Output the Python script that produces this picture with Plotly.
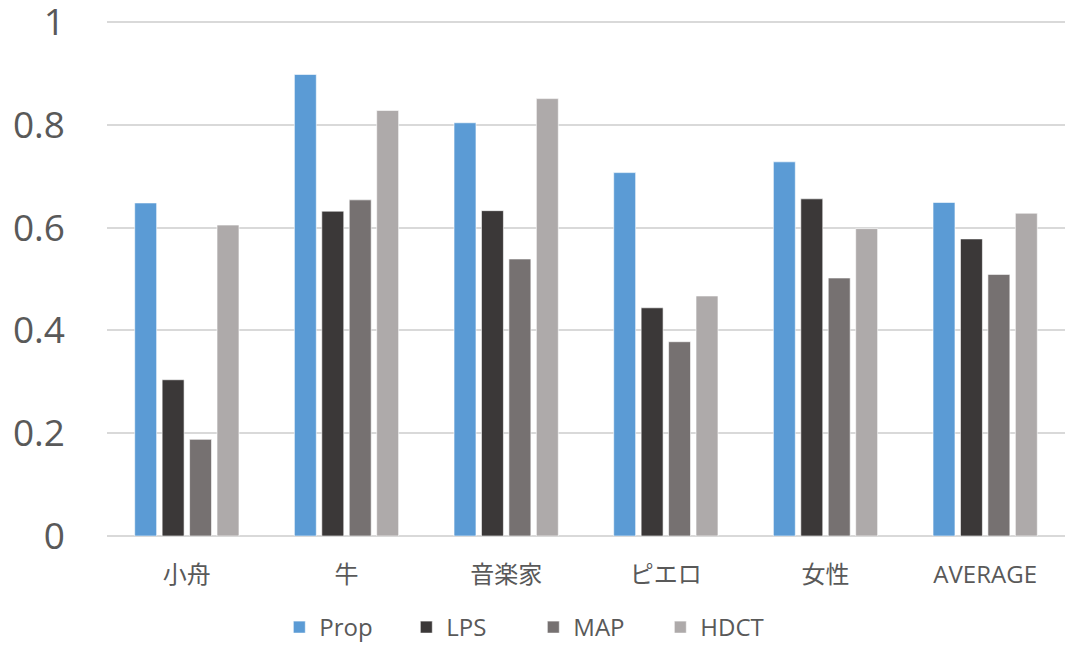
import plotly.graph_objects as go

categories = ["小舟", "牛", "音楽家", "ピエロ", "女性", "AVERAGE"]
prop = [0.648, 0.898, 0.804, 0.707, 0.728, 0.649]
lps = [0.304, 0.632, 0.633, 0.444, 0.656, 0.578]
map_ = [0.188, 0.654, 0.539, 0.378, 0.502, 0.509]
hdct = [0.605, 0.828, 0.851, 0.467, 0.598, 0.628]
y_ticks = [0, 0.2, 0.4, 0.6, 0.8, 1]
y_tick_labels = ["0", "0.2", "0.4", "0.6", "0.8", "1"]

series = [
    ("Prop", prop, "#5B9BD5"),
    ("LPS", lps, "#3B3838"),
    ("MAP", map_, "#767171"),
    ("HDCT", hdct, "#AEAAAA"),
]

font_family = "Open Sans, Noto Sans CJK JP, sans-serif"
text_color = "#595959"

fig = go.Figure()
for name, vals, color in series:
    fig.add_trace(go.Bar(
        name=name, x=categories, y=vals,
        marker=dict(color=color, line=dict(color="rgba(255,255,255,0.6)", width=1)),
    ))

fig.update_layout(
    width=1065, height=647,
    paper_bgcolor="white", plot_bgcolor="white",
    margin=dict(l=107, r=0, t=21, b=111, autoexpand=False),
    barmode="group", bargap=0.3125, bargroupgap=0.2,
    font=dict(family=font_family, color=text_color),
    showlegend=True,
    legend=dict(
        orientation="h", x=0.445, xanchor="center", y=-0.134, yanchor="top",
        font=dict(size=24, color=text_color, family=font_family),
        entrywidth=82, entrywidthmode="pixels", traceorder="normal",
    ),
    xaxis=dict(
        showgrid=False, showline=False, ticks="", automargin=False,
        tickfont=dict(size=24, color=text_color, family=font_family),
        ticklabelstandoff=22,
    ),
    yaxis=dict(
        range=[0, 1.002], tickvals=y_ticks, ticktext=y_tick_labels,
        showgrid=True, gridcolor="#D9D9D9", gridwidth=1.5,
        zeroline=True, zerolinecolor="#D9D9D9", zerolinewidth=1.5,
        showline=False, ticks="", automargin=False,
        tickfont=dict(size=37, color=text_color, family=font_family),
        ticklabelstandoff=41, ticklabeloverflow="allow",
    ),
)

fig.write_html("out.html")
